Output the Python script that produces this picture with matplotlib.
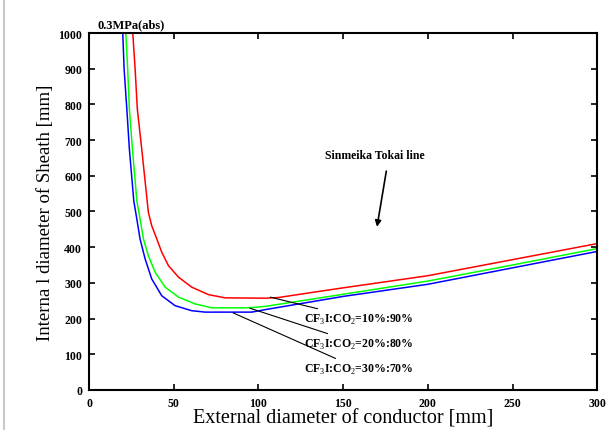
import numpy as np
import matplotlib.pyplot as plt
from matplotlib.lines import Line2D

plt.rcParams['font.family'] = ['Liberation Serif', 'DejaVu Serif']
plt.rcParams['mathtext.fontset'] = 'custom'
plt.rcParams['mathtext.rm'] = 'Liberation Serif'
plt.rcParams['mathtext.bf'] = 'Liberation Serif:bold'

# Curves (external diameter [mm] -> internal diameter [mm])
x_10 = [25.8, 27.2, 28.5, 31.1, 34.3, 35.0, 37.0, 40.0, 42.9, 46.9, 52.8, 60.6, 70.5, 80.3, 104, 112, 130, 150, 200, 250, 300]
y_10 = [1000, 899, 787, 675, 530, 498, 460, 423, 386, 348, 316, 288, 267, 258, 257, 259, 272, 286, 320, 365, 410]

x_20 = [21.7, 22.8, 23.8, 25.6, 28.2, 30.1, 32.1, 35.0, 39.0, 44.9, 52.8, 62.6, 72.5, 94, 104, 150, 200, 250, 300]
y_20 = [1000, 899, 787, 675, 530, 479, 423, 376, 330, 288, 260, 241, 230, 230, 234, 268, 305, 350, 396]

x_30 = [19.9, 20.7, 22.3, 23.8, 26.4, 28.2, 30.1, 33.1, 37.0, 42.9, 50.8, 60.6, 68.5, 96, 104, 150, 200, 250, 300]
y_30 = [1000, 899, 787, 675, 530, 479, 423, 367, 311, 264, 236, 222, 218, 218, 225, 262, 296, 342, 388]

labels = ['CF$_3$I:CO$_2$=10%:90%', 'CF$_3$I:CO$_2$=20%:80%', 'CF$_3$I:CO$_2$=30%:70%']

fig = plt.figure(figsize=(6.1, 4.31), dpi=100)
ax = fig.add_axes([0.146, 0.093, 0.833, 0.828])

ax.plot(x_10, y_10, color='#ff0000', lw=1.1)
ax.plot(x_20, y_20, color='#00ff00', lw=1.1)
ax.plot(x_30, y_30, color='#0000ff', lw=1.1)

ax.set_xlim(0, 300)
ax.set_ylim(0, 1000)
ax.set_xticks(np.arange(0, 301, 50))
ax.set_yticks(np.arange(0, 1001, 100))
ax.tick_params(direction='in', length=4, width=1.2, top=True, right=True, labelsize=8.5, pad=5)
for lab in ax.get_xticklabels() + ax.get_yticklabels():
    lab.set_fontweight('bold')
for s in ax.spines.values():
    s.set_linewidth(1.5)

ax.set_xlabel('External diameter of conductor [mm]', fontsize=14.5, labelpad=0)
ax.set_ylabel('Interna l diameter of Sheath [mm]', fontsize=13.5, labelpad=3)

ax.text(0.016, 1.008, '0.3MPa(abs)', transform=ax.transAxes, fontsize=9, fontweight='bold',
        va='bottom', ha='left')

# Shinkansen annotation
ax.text(169, 641, 'Sinmeika Tokai line', fontsize=8.5, fontweight='bold', ha='center', va='bottom')
ax.annotate('', xy=(170, 457), xytext=(175.5, 613),
            arrowprops=dict(arrowstyle='-|>', color='black', lw=1.2, mutation_scale=9,
                            shrinkA=0, shrinkB=0))

# Gas mixture leader lines
ax.annotate(labels[0], xy=(107, 260), xytext=(127, 199), fontsize=8.5, fontweight='bold',
            va='center', ha='left',
            arrowprops=dict(arrowstyle='-', color='black', lw=0.8, shrinkA=1, shrinkB=0))
ax.annotate(labels[1], xy=(95, 229), xytext=(127, 129), fontsize=8.5, fontweight='bold',
            va='center', ha='left',
            arrowprops=dict(arrowstyle='-', color='black', lw=0.8, shrinkA=1, shrinkB=0))
ax.annotate(labels[2], xy=(85, 216), xytext=(127, 59), fontsize=8.5, fontweight='bold',
            va='center', ha='left',
            arrowprops=dict(arrowstyle='-', color='black', lw=0.8, shrinkA=1, shrinkB=0))

# gray border on the left of the figure
fig.add_artist(Line2D([0.006, 0.006], [0, 1], transform=fig.transFigure, color='#c8c8c8', lw=1.5))

fig.savefig('out.png', dpi=100)
